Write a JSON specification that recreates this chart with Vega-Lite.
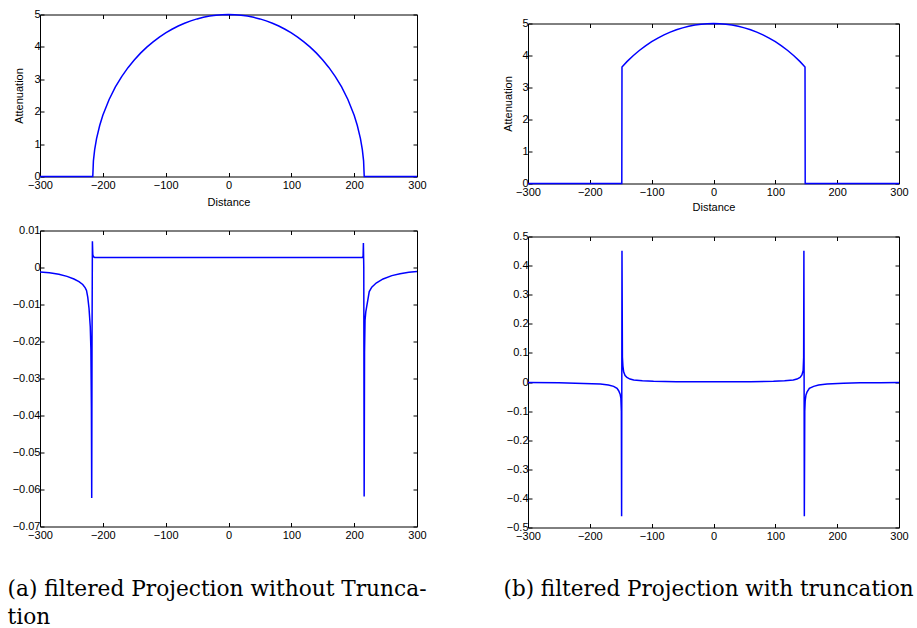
{
  "$schema": "https://vega.github.io/schema/vega-lite/v6.json",
  "padding": {"left": 7, "top": 8.5, "right": 5, "bottom": 5},
  "background": "white",
  "config": {
    "view": {"stroke": null},
    "axis": {
      "domainColor": "#000", "domainWidth": 1, "tickColor": "#000", "tickSize": -4, "tickWidth": 1,
      "labelColor": "#000", "labelFont": "Liberation Sans", "labelFontSize": 11, "labelPadding": 4,
      "labelFlush": false, "labelOverlap": false, "labelBound": false, "grid": false,
      "titleFont": "Liberation Sans", "titleFontSize": 11, "titleFontWeight": "normal", "titleColor": "#000"
    },
    "axisBottom": {"labelPadding": 7}
  },
  "datasets": {
    "tl": [
      {"x": -300, "y": 0}, {"x": -216, "y": 0}, {"x": -215, "y": 0.481}, {"x": -213, "y": 0.83}, {"x": -210, "y": 1.17},
      {"x": -205, "y": 1.575}, {"x": -200, "y": 1.889}, {"x": -190, "y": 2.378}, {"x": -180, "y": 2.764}, {"x": -170, "y": 3.085},
      {"x": -160, "y": 3.359}, {"x": -150, "y": 3.598}, {"x": -140, "y": 3.808}, {"x": -130, "y": 3.993}, {"x": -120, "y": 4.157},
      {"x": -110, "y": 4.303}, {"x": -100, "y": 4.432}, {"x": -90, "y": 4.545}, {"x": -80, "y": 4.644}, {"x": -70, "y": 4.73},
      {"x": -60, "y": 4.803}, {"x": -50, "y": 4.864}, {"x": -40, "y": 4.913}, {"x": -30, "y": 4.952}, {"x": -20, "y": 4.979},
      {"x": -10, "y": 4.995}, {"x": 0, "y": 5},
      {"x": 10, "y": 4.995}, {"x": 20, "y": 4.979}, {"x": 30, "y": 4.952}, {"x": 40, "y": 4.913}, {"x": 50, "y": 4.864},
      {"x": 60, "y": 4.803}, {"x": 70, "y": 4.73}, {"x": 80, "y": 4.644}, {"x": 90, "y": 4.545}, {"x": 100, "y": 4.432},
      {"x": 110, "y": 4.303}, {"x": 120, "y": 4.157}, {"x": 130, "y": 3.993}, {"x": 140, "y": 3.808}, {"x": 150, "y": 3.598},
      {"x": 160, "y": 3.359}, {"x": 170, "y": 3.085}, {"x": 180, "y": 2.764}, {"x": 190, "y": 2.378}, {"x": 200, "y": 1.889},
      {"x": 205, "y": 1.575}, {"x": 210, "y": 1.17}, {"x": 213, "y": 0.83}, {"x": 215, "y": 0.481}, {"x": 216, "y": 0}, {"x": 300, "y": 0}
    ],
    "tr": [
      {"x": -300, "y": 0}, {"x": -148.3, "y": 0}, {"x": -148, "y": 3.642}, {"x": -140, "y": 3.808}, {"x": -130, "y": 3.993},
      {"x": -120, "y": 4.157}, {"x": -110, "y": 4.303}, {"x": -100, "y": 4.432}, {"x": -90, "y": 4.545}, {"x": -80, "y": 4.644},
      {"x": -70, "y": 4.73}, {"x": -60, "y": 4.803}, {"x": -50, "y": 4.864}, {"x": -40, "y": 4.913}, {"x": -30, "y": 4.952},
      {"x": -20, "y": 4.979}, {"x": -10, "y": 4.995}, {"x": 0, "y": 5}, {"x": 10, "y": 4.995}, {"x": 20, "y": 4.979},
      {"x": 30, "y": 4.952}, {"x": 40, "y": 4.913}, {"x": 50, "y": 4.864}, {"x": 60, "y": 4.803}, {"x": 70, "y": 4.73},
      {"x": 80, "y": 4.644}, {"x": 90, "y": 4.545}, {"x": 100, "y": 4.432}, {"x": 110, "y": 4.303}, {"x": 120, "y": 4.157},
      {"x": 130, "y": 3.993}, {"x": 140, "y": 3.808}, {"x": 148, "y": 3.642}, {"x": 148.3, "y": 0}, {"x": 300, "y": 0}
    ],
    "bl": [
      {"x": -300, "y": -0.0012}, {"x": -285, "y": -0.0014}, {"x": -270, "y": -0.0018}, {"x": -257, "y": -0.0024},
      {"x": -246, "y": -0.0031}, {"x": -238, "y": -0.0038}, {"x": -232, "y": -0.0046}, {"x": -228, "y": -0.0055},
      {"x": -226, "y": -0.0062}, {"x": -224, "y": -0.008}, {"x": -222, "y": -0.011}, {"x": -220, "y": -0.016},
      {"x": -219, "y": -0.022}, {"x": -218.2, "y": -0.038}, {"x": -217.7, "y": -0.0623}, {"x": -217.2, "y": -0.02},
      {"x": -216.6, "y": 0.0071}, {"x": -216, "y": 0.0035}, {"x": -215, "y": 0.0029}, {"x": -213, "y": 0.0027},
      {"x": -150, "y": 0.0027}, {"x": 0, "y": 0.0027}, {"x": 150, "y": 0.0027}, {"x": 213, "y": 0.0027},
      {"x": 214.2, "y": 0.003}, {"x": 214.7, "y": 0.0066}, {"x": 215.3, "y": 0}, {"x": 215.9, "y": -0.0619},
      {"x": 216.5, "y": -0.023}, {"x": 217.3, "y": -0.0143}, {"x": 218.5, "y": -0.012}, {"x": 220, "y": -0.0105},
      {"x": 221.5, "y": -0.009}, {"x": 224, "y": -0.0065}, {"x": 228, "y": -0.0053}, {"x": 235, "y": -0.0042},
      {"x": 246, "y": -0.0031}, {"x": 260, "y": -0.0022}, {"x": 273, "y": -0.0017}, {"x": 287, "y": -0.0013}, {"x": 300, "y": -0.0011}
    ],
    "br": [
      {"x": -300, "y": -0.002}, {"x": -250, "y": -0.003}, {"x": -210, "y": -0.005}, {"x": -183, "y": -0.007},
      {"x": -170, "y": -0.01}, {"x": -161.5, "y": -0.015}, {"x": -156, "y": -0.022}, {"x": -153.4, "y": -0.03},
      {"x": -151, "y": -0.042}, {"x": -149.8, "y": -0.055}, {"x": -149, "y": -0.1}, {"x": -148.6, "y": -0.461},
      {"x": -148, "y": 0.451}, {"x": -147.3, "y": 0.085}, {"x": -146.5, "y": 0.055}, {"x": -145.3, "y": 0.035},
      {"x": -143, "y": 0.022}, {"x": -140, "y": 0.016}, {"x": -135, "y": 0.01}, {"x": -129, "y": 0.007},
      {"x": -115, "y": 0.004}, {"x": -97, "y": 0.0023}, {"x": -60, "y": 0.001}, {"x": 0, "y": 0.0005},
      {"x": 60, "y": 0.001}, {"x": 97, "y": 0.0023}, {"x": 115, "y": 0.004}, {"x": 129, "y": 0.007},
      {"x": 135, "y": 0.01}, {"x": 140, "y": 0.016}, {"x": 143, "y": 0.024}, {"x": 145, "y": 0.04},
      {"x": 145.8, "y": 0.085}, {"x": 146.2, "y": 0.451}, {"x": 146.9, "y": -0.461}, {"x": 147.6, "y": -0.1},
      {"x": 148.3, "y": -0.064}, {"x": 149.5, "y": -0.045}, {"x": 151.2, "y": -0.035}, {"x": 155, "y": -0.022},
      {"x": 162, "y": -0.015}, {"x": 170, "y": -0.01}, {"x": 183.6, "y": -0.007}, {"x": 210, "y": -0.004},
      {"x": 237, "y": -0.003}, {"x": 270, "y": -0.0025}, {"x": 300, "y": -0.002}
    ]
  },
  "columns": 2,
  "align": "each",
  "bounds": "flush",
  "spacing": {"row": 47, "column": 111},
  "concat": [
    {
      "width": 377, "height": 162,
      "data": {"name": "tl"},
      "layer": [
        {
          "mark": {"type": "line", "color": "#0000ff", "strokeWidth": 1.5},
          "encoding": {
            "x": {"field": "x", "type": "quantitative", "scale": {"domain": [-300, 300], "nice": false, "zero": false},
              "axis": {"orient": "bottom", "values": [-300, -200, -100, 0, 100, 200, 300], "format": "d",
                "title": "Distance", "titleY": 29, "titleBaseline": "alphabetic"}},
            "y": {"field": "y", "type": "quantitative", "scale": {"domain": [0, 5], "nice": false},
              "axis": {"orient": "left", "values": [0, 1, 2, 3, 4, 5], "format": "d",
                "title": "Attenuation", "titleX": -21, "titleY": 81, "titleAngle": -90, "titleBaseline": "middle", "titleAlign": "center"}}
          }
        },
        {
          "mark": {"type": "line", "opacity": 0},
          "encoding": {
            "x": {"field": "x", "type": "quantitative", "axis": {"orient": "top", "values": [-300, -200, -100, 0, 100, 200, 300], "labels": false, "title": null}},
            "y": {"field": "y", "type": "quantitative", "axis": {"orient": "right", "values": [0, 1, 2, 3, 4, 5], "labels": false, "title": null}}
          }
        }
      ],
      "resolve": {"axis": {"x": "independent", "y": "independent"}}
    },
    {
      "width": 371, "height": 169,
      "data": {"name": "tr"},
      "layer": [
        {
          "mark": {"type": "line", "color": "#0000ff", "strokeWidth": 1.5},
          "encoding": {
            "x": {"field": "x", "type": "quantitative", "scale": {"domain": [-300, 300], "nice": false, "zero": false},
              "axis": {"orient": "bottom", "values": [-300, -200, -100, 0, 100, 200, 300], "format": "d",
                "title": "Distance", "titleY": 27, "titleBaseline": "alphabetic"}},
            "y": {"field": "y", "type": "quantitative", "scale": {"domain": [0, 5], "nice": false, "range": [169, 9]},
              "axis": {"orient": "left", "values": [0, 1, 2, 3, 4, 5], "format": "d",
                "title": "Attenuation", "titleX": -20, "titleY": 89, "titleAngle": -90, "titleBaseline": "middle", "titleAlign": "center"}}
          }
        },
        {
          "mark": {"type": "line", "opacity": 0},
          "encoding": {
            "x": {"field": "x", "type": "quantitative", "axis": {"orient": "top", "offset": -9, "values": [-300, -200, -100, 0, 100, 200, 300], "labels": false, "title": null}},
            "y": {"field": "y", "type": "quantitative", "axis": {"orient": "right", "values": [0, 1, 2, 3, 4, 5], "labels": false, "title": null}}
          }
        }
      ],
      "resolve": {"axis": {"x": "independent", "y": "independent"}}
    },
    {
      "width": 377, "height": 296,
      "data": {"name": "bl"},
      "layer": [
        {
          "mark": {"type": "line", "color": "#0000ff", "strokeWidth": 1.5},
          "encoding": {
            "x": {"field": "x", "type": "quantitative", "scale": {"domain": [-300, 300], "nice": false, "zero": false},
              "axis": {"orient": "bottom", "values": [-300, -200, -100, 0, 100, 200, 300], "format": "d",
                "title": ["(a) filtered Projection without Trunca-", "tion"], "titleFont": "DejaVu Serif", "titleFontSize": 21.7,
                "titleX": -33, "titleY": 69, "titleAlign": "left", "titleAnchor": "start", "titleBaseline": "alphabetic", "titleLineHeight": 28}},
            "y": {"field": "y", "type": "quantitative", "scale": {"domain": [-0.07, 0.01], "nice": false, "zero": false},
              "axis": {"orient": "left", "values": [0.01, 0, -0.01, -0.02, -0.03, -0.04, -0.05, -0.06, -0.07], "format": ".2~f", "title": null}}
          }
        },
        {
          "mark": {"type": "line", "opacity": 0},
          "encoding": {
            "x": {"field": "x", "type": "quantitative", "axis": {"orient": "top", "values": [-300, -200, -100, 0, 100, 200, 300], "labels": false, "title": null}},
            "y": {"field": "y", "type": "quantitative", "axis": {"orient": "right", "values": [0.01, 0, -0.01, -0.02, -0.03, -0.04, -0.05, -0.06, -0.07], "labels": false, "title": null}}
          }
        }
      ],
      "resolve": {"axis": {"x": "independent", "y": "independent"}}
    },
    {
      "width": 371, "height": 297,
      "data": {"name": "br"},
      "layer": [
        {
          "mark": {"type": "line", "color": "#0000ff", "strokeWidth": 1.5},
          "encoding": {
            "x": {"field": "x", "type": "quantitative", "scale": {"domain": [-300, 300], "nice": false, "zero": false},
              "axis": {"orient": "bottom", "values": [-300, -200, -100, 0, 100, 200, 300], "format": "d",
                "title": "(b) filtered Projection with truncation", "titleFont": "DejaVu Serif", "titleFontSize": 21.5,
                "titleX": -25, "titleY": 68, "titleAlign": "left", "titleAnchor": "start", "titleBaseline": "alphabetic"}},
            "y": {"field": "y", "type": "quantitative", "scale": {"domain": [-0.5, 0.5], "nice": false, "zero": false, "range": [297, 6]},
              "axis": {"orient": "left", "values": [0.5, 0.4, 0.3, 0.2, 0.1, 0, -0.1, -0.2, -0.3, -0.4, -0.5], "format": ".1~f", "title": null}}
          }
        },
        {
          "mark": {"type": "line", "opacity": 0},
          "encoding": {
            "x": {"field": "x", "type": "quantitative", "axis": {"orient": "top", "offset": -6, "values": [-300, -200, -100, 0, 100, 200, 300], "labels": false, "title": null}},
            "y": {"field": "y", "type": "quantitative", "axis": {"orient": "right", "values": [0.5, 0.4, 0.3, 0.2, 0.1, 0, -0.1, -0.2, -0.3, -0.4, -0.5], "labels": false, "title": null}}
          }
        }
      ],
      "resolve": {"axis": {"x": "independent", "y": "independent"}}
    }
  ]
}
